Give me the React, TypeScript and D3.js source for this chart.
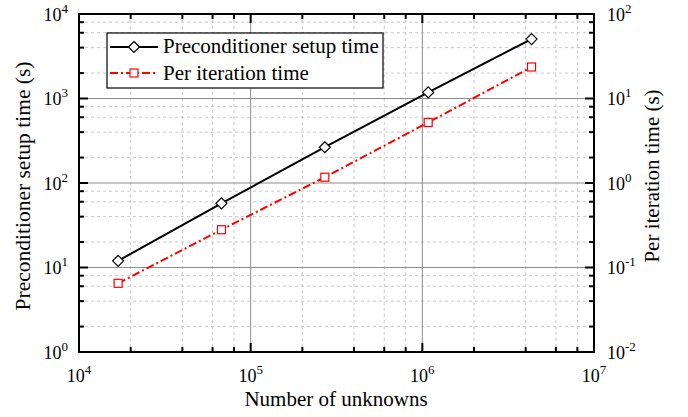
import React from "react";
import * as d3 from "d3";

const unknowns = [16900, 67600, 270400, 1081600, 4326400];
const setupTime = [12, 57.5, 265, 1180, 5050];
const iterTime = [0.065, 0.28, 1.17, 5.2, 23.6];
const xDecades = [1e4, 1e5, 1e6, 1e7];
const yLeftDecades = [1, 10, 100, 1000, 10000];
const yRightDecades = [0.01, 0.1, 1, 10, 100];
const minorMults = [2, 4, 6, 8];
const legendLabels = ["Preconditioner setup time", "Per iteration time"];

const W = 688, H = 417;
const L = 79, R = 594, T = 14, B = 352;
const FONT = "'Liberation Serif', 'Times New Roman', serif";

function expOf(v: number) {
  return Math.round(Math.log10(v));
}

export default function App() {
  const x = d3.scaleLog().domain([1e4, 1e7]).range([L, R]);
  const yL = d3.scaleLog().domain([1, 1e4]).range([B, T]);
  const yR = d3.scaleLog().domain([0.01, 100]).range([B, T]);

  const xMinor: number[] = [];
  for (let i = 0; i < xDecades.length - 1; i++) minorMults.forEach((m) => xMinor.push(xDecades[i] * m));
  const yMinor: number[] = [];
  for (let i = 0; i < yLeftDecades.length - 1; i++) minorMults.forEach((m) => yMinor.push(yLeftDecades[i] * m));

  const lineL = d3.line<number>().x((_, i) => x(unknowns[i])).y((d) => yL(d));
  const lineR = d3.line<number>().x((_, i) => x(unknowns[i])).y((d) => yR(d));

  const diamond = (cx: number, cy: number, r = 5.5) =>
    `M${cx},${cy - r}L${cx + r},${cy}L${cx},${cy + r}L${cx - r},${cy}Z`;

  return (
    <svg width={W} height={H} style={{ position: "absolute", left: 0, top: 0, background: "#fff" }} fontFamily={FONT}>
      <rect x={0} y={0} width={W} height={H} fill="#fff" />
      {/* minor grid */}
      {xMinor.map((v, i) => (
        <line key={"gx" + i} x1={x(v)} x2={x(v)} y1={T} y2={B} stroke="#c8c8c8" strokeWidth={1} strokeDasharray="3,3" />
      ))}
      {yMinor.map((v, i) => (
        <line key={"gy" + i} x1={L} x2={R} y1={yL(v)} y2={yL(v)} stroke="#c8c8c8" strokeWidth={1} strokeDasharray="3,3" />
      ))}
      {/* major grid */}
      {xDecades.slice(1, -1).map((v, i) => (
        <line key={"Gx" + i} x1={x(v)} x2={x(v)} y1={T} y2={B} stroke="#8c8c8c" strokeWidth={1} />
      ))}
      {yLeftDecades.slice(1, -1).map((v, i) => (
        <line key={"Gy" + i} x1={L} x2={R} y1={yL(v)} y2={yL(v)} stroke="#8c8c8c" strokeWidth={1} />
      ))}

      {/* ticks */}
      {xDecades.map((v, i) => (
        <g key={"tx" + i}>
          <line x1={x(v)} x2={x(v)} y1={B} y2={B - 9} stroke="#000" strokeWidth={2} />
          <line x1={x(v)} x2={x(v)} y1={T} y2={T + 9} stroke="#000" strokeWidth={2} />
        </g>
      ))}
      {xMinor.map((v, i) => (
        <g key={"mx" + i}>
          <line x1={x(v)} x2={x(v)} y1={B} y2={B - 5} stroke="#000" strokeWidth={2} />
          <line x1={x(v)} x2={x(v)} y1={T} y2={T + 5} stroke="#000" strokeWidth={2} />
        </g>
      ))}
      {yLeftDecades.map((v, i) => (
        <g key={"ty" + i}>
          <line x1={L} x2={L + 9} y1={yL(v)} y2={yL(v)} stroke="#000" strokeWidth={2} />
          <line x1={R} x2={R - 9} y1={yL(v)} y2={yL(v)} stroke="#000" strokeWidth={2} />
        </g>
      ))}
      {yMinor.map((v, i) => (
        <g key={"my" + i}>
          <line x1={L} x2={L + 5} y1={yL(v)} y2={yL(v)} stroke="#000" strokeWidth={2} />
          <line x1={R} x2={R - 5} y1={yL(v)} y2={yL(v)} stroke="#000" strokeWidth={2} />
        </g>
      ))}

      {/* frame */}
      <rect x={L} y={T} width={R - L} height={B - T} fill="none" stroke="#000" strokeWidth={2} />

      {/* tick labels */}
      {xDecades.map((v, i) => (
        <text key={"lx" + i} x={x(v)} y={382} textAnchor="middle" fontSize={18} fill="#000">
          10<tspan dy={-8} fontSize={13}>{expOf(v)}</tspan>
        </text>
      ))}
      {yLeftDecades.map((v, i) => (
        <text key={"ly" + i} x={68} y={yL(v) + 6.5} textAnchor="end" fontSize={18} fill="#000">
          10<tspan dy={-8} fontSize={13}>{expOf(v)}</tspan>
        </text>
      ))}
      {yRightDecades.map((v, i) => (
        <text key={"ry" + i} x={607} y={yR(v) + 6.5} textAnchor="start" fontSize={18} fill="#000">
          10<tspan dy={-8} fontSize={13}>{expOf(v)}</tspan>
        </text>
      ))}

      {/* axis titles */}
      <text x={336} y={406} textAnchor="middle" fontSize={21} fill="#000">Number of unknowns</text>
      <text transform={`translate(30,186) rotate(-90)`} textAnchor="middle" fontSize={21.5} fill="#000">
        Preconditioner setup time (s)
      </text>
      <text transform={`translate(659,176) rotate(-90)`} textAnchor="middle" fontSize={21} fill="#000">
        Per iteration time (s)
      </text>

      {/* series */}
      <path d={lineL(setupTime) || ""} fill="none" stroke="#000" strokeWidth={2} />
      <path d={lineR(iterTime) || ""} fill="none" stroke="#ff0000" strokeWidth={2} strokeDasharray="8,3,2,3" />
      {setupTime.map((v, i) => (
        <path key={"d" + i} d={diamond(x(unknowns[i]), yL(v))} fill="#fff" stroke="#000" strokeWidth={1.2} />
      ))}
      {iterTime.map((v, i) => (
        <rect key={"s" + i} x={x(unknowns[i]) - 4} y={yR(v) - 4} width={8} height={8} fill="#fff" stroke="#ff0000" strokeWidth={1.2} />
      ))}

      {/* legend */}
      <rect x={107} y={33} width={276} height={55} fill="#fff" stroke="#000" strokeWidth={1.2} />
      <line x1={110} x2={158} y1={47} y2={47} stroke="#000" strokeWidth={2} />
      <path d={diamond(134, 47)} fill="#fff" stroke="#000" strokeWidth={1.2} />
      <text x={163} y={53} fontSize={21} fill="#000">{legendLabels[0]}</text>
      <line x1={110} x2={158} y1={73} y2={73} stroke="#ff0000" strokeWidth={2} strokeDasharray="8,3,2,3" />
      <rect x={130} y={69} width={8} height={8} fill="#fff" stroke="#ff0000" strokeWidth={1.2} />
      <text x={163} y={80} fontSize={21} fill="#000">{legendLabels[1]}</text>
    </svg>
  );
}
